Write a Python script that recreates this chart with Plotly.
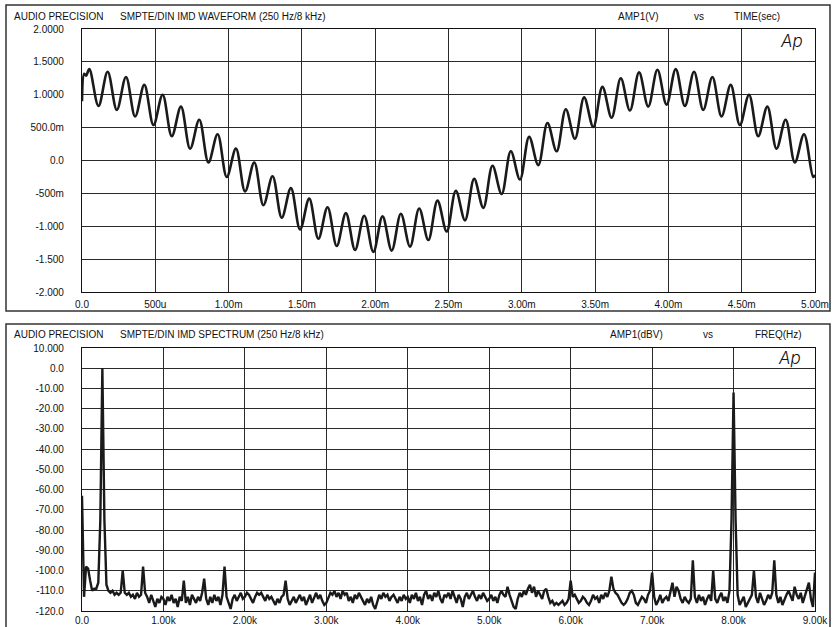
import plotly.graph_objects as go

W, H = 835, 627

# ---------------- data: waveform (peaks / troughs) ----------------
wave_extrema_v = [
    1.39, 0.83, 1.35, 0.77, 1.27, 0.67, 1.15, 0.54, 1.00, 0.37,
    0.82, 0.18, 0.62, -0.03, 0.40, -0.25, 0.18, -0.47, -0.03, -0.68,
    -0.24, -0.87, -0.42, -1.05, -0.58, -1.19, -0.71, -1.30, -0.80, -1.36,
    -0.84, -1.39, -0.85, -1.37, -0.81, -1.31, -0.73, -1.21, -0.61, -1.08,
    -0.46, -0.91, -0.28, -0.72, -0.08, -0.51, 0.14, -0.29, 0.36, -0.07,
    0.57, 0.14, 0.78, 0.33, 0.96, 0.51, 1.12, 0.65, 1.25, 0.76,
    1.34, 0.82, 1.38, 0.85, 1.39, 0.83, 1.35, 0.77, 1.27, 0.67,
    1.15, 0.54, 1.00, 0.37, 0.82, 0.18, 0.62, -0.03, 0.40, -0.25,
]
wave_t_ms = [0.0, 0.015, 0.028] + [round(0.05 + 0.0625 * i, 4) for i in range(80)] + [5.0]
wave_v = [0.90, 1.32, 1.29] + wave_extrema_v + [-0.22]

# ---------------- data: spectrum (dBV every 25 Hz) ----------------
spec_f_hz = list(range(0, 9001, 25))
spec_db = [
    -63, -113, -98, -99, -105, -110, -109, -109, -106, -75, 0.0, -75, -107, -110, -111, -110, -112, -111, -112, -111,
    -100, -111, -112, -111, -113, -112, -114, -111, -113, -112, -98, -111, -113, -116, -112, -115, -118, -114, -116, -113,
    -114, -117, -113, -115, -112, -116, -114, -118, -113, -115, -105, -116, -113, -117, -112, -114, -116, -113, -115, -111,
    -104, -114, -117, -113, -116, -112, -115, -113, -117, -112, -98, -113, -116, -119, -114, -112, -115, -113, -111, -114,
    -113, -111, -112, -114, -116, -113, -111, -112, -111, -113, -115, -112, -114, -113, -115, -117, -114, -116, -113, -112,
    -105, -114, -117, -115, -113, -116, -114, -112, -115, -113, -117, -114, -112, -116, -113, -111, -114, -112, -115, -117,
    -116, -113, -111, -112, -110, -113, -111, -114, -110, -112, -111, -115, -113, -116, -112, -114, -111, -113, -115, -117,
    -114, -116, -113, -117, -119, -115, -112, -114, -111, -113, -112, -115, -113, -112, -114, -116, -113, -115, -112, -114,
    -113, -116, -112, -114, -111, -115, -113, -117, -112, -110, -114, -112, -115, -111, -113, -110, -114, -116, -112, -113,
    -111, -114, -110, -113, -116, -112, -114, -118, -113, -111, -114, -112, -110, -113, -115, -112, -114, -111, -113, -115,
    -114, -112, -115, -113, -116, -112, -110, -112, -113, -108, -112, -115, -118, -119, -114, -111, -113, -110, -112, -109,
    -107, -111, -108, -113, -110, -112, -114, -110, -109, -113, -116, -115, -117, -116, -117, -116, -115, -117, -116, -114,
    -105, -113, -112, -114, -116, -115, -113, -114, -116, -117, -115, -112, -114, -113, -116, -112, -114, -111, -113, -110,
    -103, -109, -111, -112, -114, -116, -117, -116, -114, -111, -110, -112, -116, -117, -115, -113, -114, -116, -112, -110,
    -101, -113, -117, -115, -112, -116, -114, -113, -115, -110, -106, -113, -108, -110, -114, -116, -113, -115, -116, -114,
    -95, -113, -116, -112, -115, -113, -117, -114, -112, -115, -100, -114, -116, -113, -111, -115, -113, -116, -110, -75,
    -12, -75, -112, -117, -115, -113, -118, -116, -114, -112, -100, -113, -116, -111, -114, -117, -115, -112, -114, -111,
    -95, -112, -116, -113, -117, -114, -112, -110, -113, -115, -108, -112, -114, -111, -116, -113, -110, -106, -114, -118,
    -101,
]

# ---------------- tick labels ----------------
wave_xtick_vals = [0.0, 0.5, 1.0, 1.5, 2.0, 2.5, 3.0, 3.5, 4.0, 4.5, 5.0]
wave_xtick_text = ["0.0", "500u", "1.00m", "1.50m", "2.00m", "2.50m", "3.00m", "3.50m", "4.00m", "4.50m", "5.00m"]
wave_ytick_vals = [2.0, 1.5, 1.0, 0.5, 0.0, -0.5, -1.0, -1.5, -2.0]
wave_ytick_text = ["2.0000", "1.5000", "1.0000", "500.0m", "0.0", "-500m", "-1.000", "-1.500", "-2.000"]

spec_xtick_vals = [0, 1000, 2000, 3000, 4000, 5000, 6000, 7000, 8000, 9000]
spec_xtick_text = ["0.0", "1.00k", "2.00k", "3.00k", "4.00k", "5.00k", "6.00k", "7.00k", "8.00k", "9.00k"]
spec_ytick_vals = [10, 0, -10, -20, -30, -40, -50, -60, -70, -80, -90, -100, -110, -120]
spec_ytick_text = ["10.000", "0.0", "-10.00", "-20.00", "-30.00", "-40.00", "-50.00", "-60.00",
                   "-70.00", "-80.00", "-90.00", "-100.0", "-110.0", "-120.0"]


def px(x):
    return x / W


def py(y):
    return 1 - y / H


FONT = "Liberation Sans, Arial, sans-serif"
INK = "#1a1a1a"
GRID = "#2a2a2a"

fig = go.Figure()
fig.add_trace(go.Scatter(x=wave_t_ms, y=wave_v, mode="lines",
                         line=dict(color=INK, width=2.6, shape="spline", smoothing=1.0),
                         xaxis="x", yaxis="y", hoverinfo="skip", showlegend=False))
fig.add_trace(go.Scatter(x=spec_f_hz, y=spec_db, mode="lines",
                         line=dict(color=INK, width=2.4),
                         xaxis="x2", yaxis="y2", hoverinfo="skip", showlegend=False))

axis_common = dict(showline=True, mirror=True, linecolor="#111", linewidth=1.2,
                   showgrid=True, gridcolor=GRID, gridwidth=1, zeroline=False,
                   automargin=False,
                   ticks="", tickfont=dict(family=FONT, size=10, color="#111"),
                   fixedrange=True)

fig.update_layout(
    width=W, height=H, autosize=False,
    margin=dict(l=0, r=0, t=0, b=0, pad=0, autoexpand=False),
    paper_bgcolor="white", plot_bgcolor="white",
    showlegend=False,
    xaxis=dict(domain=[px(82), px(815)], range=[0, 5.0], anchor="y",
               tickmode="array", tickvals=wave_xtick_vals, ticktext=wave_xtick_text,
               ticklabelstandoff=3, **axis_common),
    yaxis=dict(domain=[py(292), py(29)], range=[-2.0, 2.0], anchor="x",
               tickmode="array", tickvals=wave_ytick_vals, ticktext=wave_ytick_text,
               ticklabelstandoff=15, **axis_common),
    xaxis2=dict(domain=[px(82), px(815)], range=[0, 9000], anchor="y2",
                tickmode="array", tickvals=spec_xtick_vals, ticktext=spec_xtick_text,
                ticklabelstandoff=0, **axis_common),
    yaxis2=dict(domain=[py(611), py(348)], range=[-120, 10], anchor="x2",
                tickmode="array", tickvals=spec_ytick_vals, ticktext=spec_ytick_text,
                ticklabelstandoff=15, **axis_common),
)

# outer frames
frame = dict(type="rect", xref="paper", yref="paper", line=dict(color="#333", width=1.5),
             fillcolor="rgba(0,0,0,0)", layer="below")
fig.add_shape(x0=px(6), x1=px(830), y0=py(311), y1=py(5), **frame)
fig.add_shape(x0=px(6), x1=px(830), y0=py(640), y1=py(324), **frame)


def label(text, x, y, anchor="left", size=10, **kw):
    fig.add_annotation(text=text, x=px(x), y=py(y), xref="paper", yref="paper",
                       xanchor=anchor, yanchor="middle", showarrow=False,
                       font=dict(family=FONT, size=size, color="#111", **kw))


# top header
label("AUDIO PRECISION", 12, 17)
label("SMPTE/DIN IMD WAVEFORM (250 Hz/8 kHz)", 118, 17)
label("AMP1(V)", 638, 17, anchor="center")
label("vs", 699, 17, anchor="center")
label("TIME(sec)", 757, 17, anchor="center")
# bottom header
label("AUDIO PRECISION", 12, 334)
label("SMPTE/DIN IMD SPECTRUM (250 Hz/8 kHz)", 118, 334)
label("AMP1(dBV)", 636, 334, anchor="center")
label("vs", 708, 334, anchor="center")
label("FREQ(Hz)", 778, 334, anchor="center")

# Ap logos
logo_font = dict(family="Inter, DejaVu Sans", size=17, color="#111", style="italic", weight=300)
fig.add_annotation(text="Ap", x=px(791), y=py(41), xref="paper", yref="paper",
                   xanchor="center", yanchor="middle", showarrow=False, font=logo_font)
fig.add_annotation(text="Ap", x=px(789), y=py(358), xref="paper", yref="paper",
                   xanchor="center", yanchor="middle", showarrow=False, font=logo_font)

fig.write_html("out.html")
